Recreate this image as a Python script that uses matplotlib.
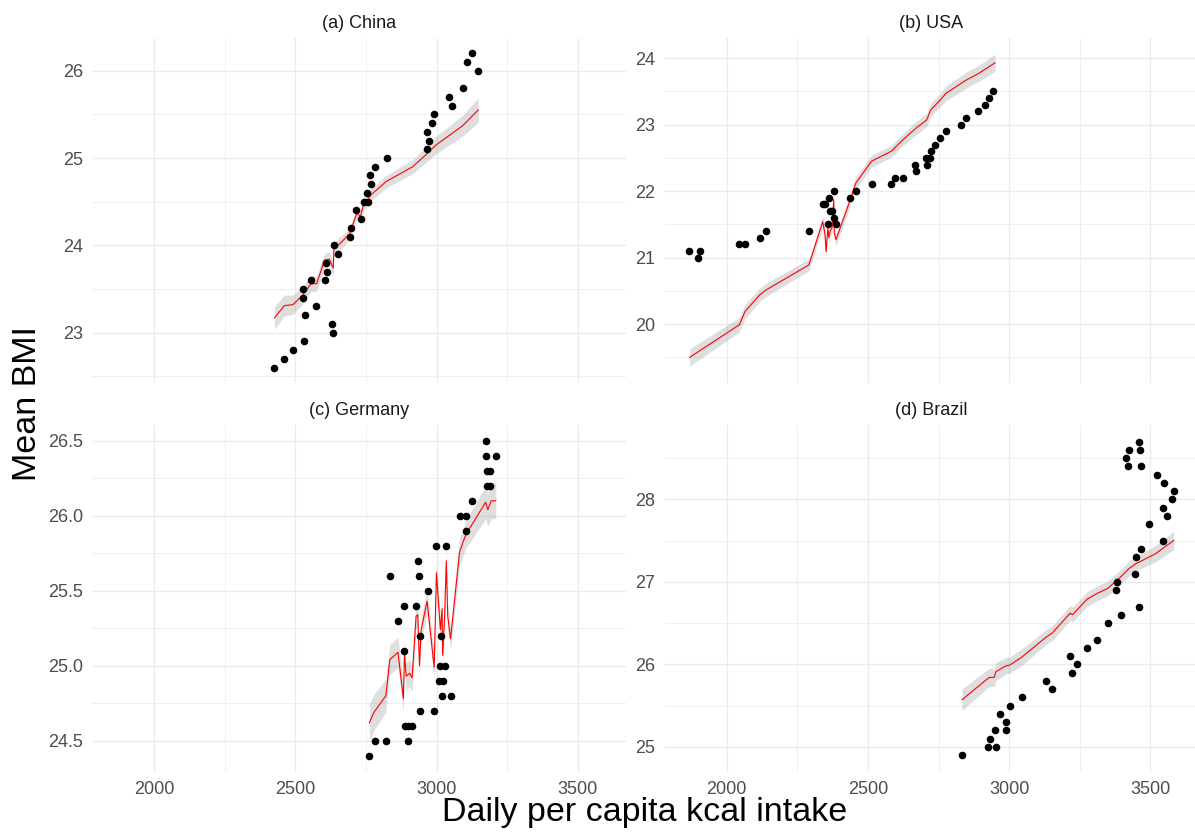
import numpy as np
import matplotlib
matplotlib.use('Agg')
import matplotlib.pyplot as plt
import matplotlib as mpl

mpl.rcParams['font.family'] = ['Liberation Sans', 'DejaVu Sans']

GRID = '#ebebeb'; TXT = '#4d4d4d'; BAND = '#999999'

XLIM = (1780, 3670)
XTICKS = [2000, 2500, 3000, 3500]
XMINOR = [2250, 2750, 3250]

# ---- (a) China ----
cn_x = [2423, 2459, 2491, 2532, 2533, 2574, 2527, 2526, 2554, 2604, 2610, 2608, 2636, 2651,
        2630, 2634, 2692, 2696, 2716, 2732, 2743, 2756, 2752, 2768, 2765, 2781, 2823, 2966,
        2973, 2966, 2982, 2989, 3042, 3054, 3094, 3106, 3124, 3147]
cn_y = [22.6, 22.7, 22.8, 22.9, 23.2, 23.3, 23.4, 23.5, 23.6, 23.6, 23.7, 23.8, 24.0, 23.9,
        23.1, 23.0, 24.1, 24.2, 24.4, 24.3, 24.5, 24.5, 24.6, 24.7, 24.8, 24.9, 25.0, 25.1,
        25.2, 25.3, 25.4, 25.5, 25.7, 25.6, 25.8, 26.1, 26.2, 26.0]
cn_lx = [2426, 2461, 2491, 2526, 2555, 2575, 2603, 2620, 2634, 2636, 2679, 2693, 2717, 2730,
         2742, 2750, 2768, 2821, 2915, 2966, 2998, 3092, 3147]
cn_ly = [23.17, 23.31, 23.32, 23.43, 23.56, 23.56, 23.83, 23.84, 23.74, 23.95, 24.09, 24.14,
         24.37, 24.33, 24.48, 24.50, 24.58, 24.73, 24.90, 25.05, 25.15, 25.37, 25.55]
cn_lb = [0.13, 0.12, 0.11, 0.10, 0.09, 0.09, 0.08, 0.08, 0.08, 0.08, 0.07, 0.07, 0.07, 0.07,
         0.07, 0.07, 0.07, 0.07, 0.08, 0.09, 0.10, 0.12, 0.14]
cn_yt = [23, 24, 25, 26]; cn_ytl = ['23', '24', '25', '26']; cn_ym = [22.5, 23.5, 24.5, 25.5]

# ---- (b) USA ----
us_x = [1867, 1900, 1906, 2045, 2065, 2117, 2138, 2291, 2340, 2349, 2362, 2379, 2366, 2373,
        2379, 2358, 2387, 2435, 2457, 2513, 2583, 2595, 2623, 2671, 2668, 2708, 2705, 2720,
        2722, 2736, 2756, 2776, 2830, 2848, 2889, 2915, 2930, 2942]
us_y = [21.1, 21.0, 21.1, 21.2, 21.2, 21.3, 21.4, 21.4, 21.8, 21.8, 21.9, 22.0, 21.7, 21.7,
        21.6, 21.5, 21.5, 21.9, 22.0, 22.1, 22.1, 22.2, 22.2, 22.3, 22.4, 22.4, 22.5, 22.5,
        22.6, 22.7, 22.8, 22.9, 23.0, 23.1, 23.2, 23.3, 23.4, 23.5]
us_lx = [1869, 2045, 2065, 2117, 2138, 2291, 2340, 2348, 2352, 2358, 2362, 2366, 2373, 2379,
         2381, 2387, 2435, 2457, 2513, 2583, 2623, 2671, 2708, 2722, 2756, 2776, 2848, 2892, 2950]
us_ly = [19.50, 19.99, 20.19, 20.44, 20.51, 20.89, 21.54, 21.35, 21.09, 21.44, 21.30, 21.40,
         21.45, 21.87, 21.37, 21.27, 21.84, 22.12, 22.45, 22.60, 22.77, 22.95, 23.07, 23.22,
         23.37, 23.47, 23.67, 23.77, 23.93]
us_lb = [0.13, 0.11, 0.11, 0.10, 0.10, 0.09, 0.09, 0.09, 0.09, 0.09, 0.09, 0.09, 0.09, 0.09,
         0.09, 0.09, 0.09, 0.09, 0.09, 0.09, 0.09, 0.10, 0.10, 0.10, 0.10, 0.11, 0.12, 0.12, 0.13]
us_yt = [20, 21, 22, 23, 24]; us_ytl = ['20', '21', '22', '23', '24']
us_ym = [19.5, 20.5, 21.5, 22.5, 23.5]

# ---- (c) Germany ----
de_x = [2762, 2781, 2822, 2899, 2889, 2899, 2911, 2834, 2863, 2884, 2884, 2927, 2934, 2937,
        2941, 2941, 2968, 2992, 2999, 3014, 3013, 3028, 3007, 3021, 3019, 3049, 3034, 3081,
        3104, 3102, 3124, 3173, 3173, 3209, 3178, 3190, 3178, 3190]
de_y = [24.4, 24.5, 24.5, 24.5, 24.6, 24.6, 24.6, 25.6, 25.3, 25.4, 25.1, 25.4, 25.7, 25.6,
        25.2, 24.7, 25.5, 24.7, 25.8, 25.2, 25.0, 25.0, 24.9, 24.9, 24.8, 24.8, 25.8, 26.0,
        26.0, 25.9, 26.1, 26.5, 26.4, 26.4, 26.3, 26.3, 26.2, 26.2]
de_lx = [2762, 2778, 2820, 2834, 2863, 2882, 2886, 2892, 2904, 2913, 2927, 2933, 2939, 2945,
         2966, 2991, 2999, 3013, 3019, 3021, 3028, 3034, 3039, 3049, 3081, 3104, 3128, 3173,
         3181, 3193, 3209]
de_ly = [24.62, 24.69, 24.80, 25.04, 25.09, 24.78, 25.08, 24.93, 24.95, 24.92, 25.33, 25.34,
         25.00, 25.24, 25.43, 24.99, 25.62, 25.24, 25.38, 25.07, 25.33, 25.70, 25.33, 25.18,
         25.76, 25.88, 25.95, 26.09, 26.04, 26.10, 26.10]
de_lb = [0.13, 0.12, 0.11, 0.10, 0.10, 0.09, 0.09, 0.09, 0.09, 0.09, 0.08, 0.08, 0.08, 0.08,
         0.08, 0.08, 0.08, 0.08, 0.08, 0.08, 0.08, 0.08, 0.08, 0.08, 0.09, 0.09, 0.10, 0.11,
         0.11, 0.12, 0.12]
de_yt = [24.5, 25.0, 25.5, 26.0, 26.5]; de_ytl = ['24.5', '25.0', '25.5', '26.0', '26.5']
de_ym = [24.75, 25.25, 25.75, 26.25]

# ---- (d) Brazil ----
br_x = [2833, 2925, 2953, 2933, 2951, 2988, 2988, 2969, 3002, 3046, 3131, 3153, 3216, 3224,
        3239, 3276, 3312, 3349, 3395, 3378, 3382, 3461, 3444, 3449, 3466, 3545, 3495, 3559,
        3544, 3575, 3585, 3547, 3522, 3420, 3468, 3415, 3425, 3464, 3459]
br_y = [24.9, 25.0, 25.0, 25.1, 25.2, 25.2, 25.3, 25.4, 25.5, 25.6, 25.8, 25.7, 26.1, 25.9,
        26.0, 26.2, 26.3, 26.5, 26.6, 26.9, 27.0, 26.7, 27.1, 27.3, 27.4, 27.5, 27.7, 27.8,
        27.9, 28.0, 28.1, 28.2, 28.3, 28.4, 28.4, 28.5, 28.6, 28.6, 28.7]
br_lx = [2833, 2929, 2947, 2953, 2988, 3002, 3046, 3131, 3153, 3216, 3224, 3276, 3312, 3349,
         3382, 3395, 3424, 3449, 3461, 3518, 3582]
br_ly = [25.57, 25.84, 25.84, 25.91, 25.98, 25.99, 26.09, 26.33, 26.38, 26.62, 26.60, 26.79,
         26.86, 26.92, 27.02, 27.06, 27.16, 27.22, 27.24, 27.34, 27.50]
br_lb = [0.13, 0.11, 0.11, 0.11, 0.10, 0.10, 0.10, 0.09, 0.09, 0.09, 0.09, 0.09, 0.09, 0.09,
         0.09, 0.09, 0.09, 0.09, 0.09, 0.10, 0.11]
br_yt = [25, 26, 27, 28]; br_ytl = ['25', '26', '27', '28']; br_ym = [25.5, 26.5, 27.5, 28.5]

W, H = 1195, 834
fig = plt.figure(figsize=(W / 100, H / 100), dpi=100)
fig.patch.set_facecolor('white')

def box(x0, y0, x1, y1):
    return [x0 / W, 1 - y1 / H, (x1 - x0) / W, (y1 - y0) / H]

panels = [
    (box(92, 37.5, 626, 383.3), '(a) China', cn_x, cn_y, cn_lx, cn_ly, cn_lb, (22.42, 26.38), cn_yt, cn_ytl, cn_ym),
    (box(664.5, 37.5, 1198.5, 383.3), '(b) USA', us_x, us_y, us_lx, us_ly, us_lb, (19.11, 24.31), us_yt, us_ytl, us_ym),
    (box(92, 425, 626, 771.5), '(c) Germany', de_x, de_y, de_lx, de_ly, de_lb, (24.295, 26.605), de_yt, de_ytl, de_ym),
    (box(664.5, 425, 1198.5, 771.5), '(d) Brazil', br_x, br_y, br_lx, br_ly, br_lb, (24.70, 28.90), br_yt, br_ytl, br_ym),
]

for i, (pos, title, px, py, lx, ly, lb, ylim, yt, ytl, ym) in enumerate(panels):
    ax = fig.add_axes(pos)
    ax.set_xlim(*XLIM); ax.set_ylim(*ylim)
    for s in ax.spines.values():
        s.set_visible(False)
    ax.set_xticks(XTICKS); ax.set_xticks(XMINOR, minor=True)
    ax.set_yticks(yt); ax.set_yticklabels(ytl); ax.set_yticks(ym, minor=True)
    ax.grid(which='major', color=GRID, lw=1.0)
    ax.grid(which='minor', color=GRID, lw=0.55)
    ax.set_axisbelow(True)
    ax.tick_params(which='both', length=0, labelsize=13, colors=TXT, pad=6.5)
    if i < 2:
        ax.set_xticklabels([])
    lx = np.array(lx); ly = np.array(ly); lb = np.array(lb)
    ax.fill_between(lx, ly - lb, ly + lb, color=BAND, alpha=0.32, lw=0)
    ax.plot(lx, ly, color='red', lw=0.8)
    ax.scatter(px, py, s=30, color='black', lw=0, zorder=3)
    ax.set_title(title, fontsize=13, color='#1a1a1a', pad=7)

fig.text(645 / W, 1 - 813 / H, 'Daily per capita kcal intake', ha='center', va='center', fontsize=24.5)
fig.text(28 / W, 1 - 404 / H, 'Mean BMI', ha='center', va='center', rotation=90, fontsize=24.5)

fig.savefig('out.png', dpi=100, facecolor='white')
